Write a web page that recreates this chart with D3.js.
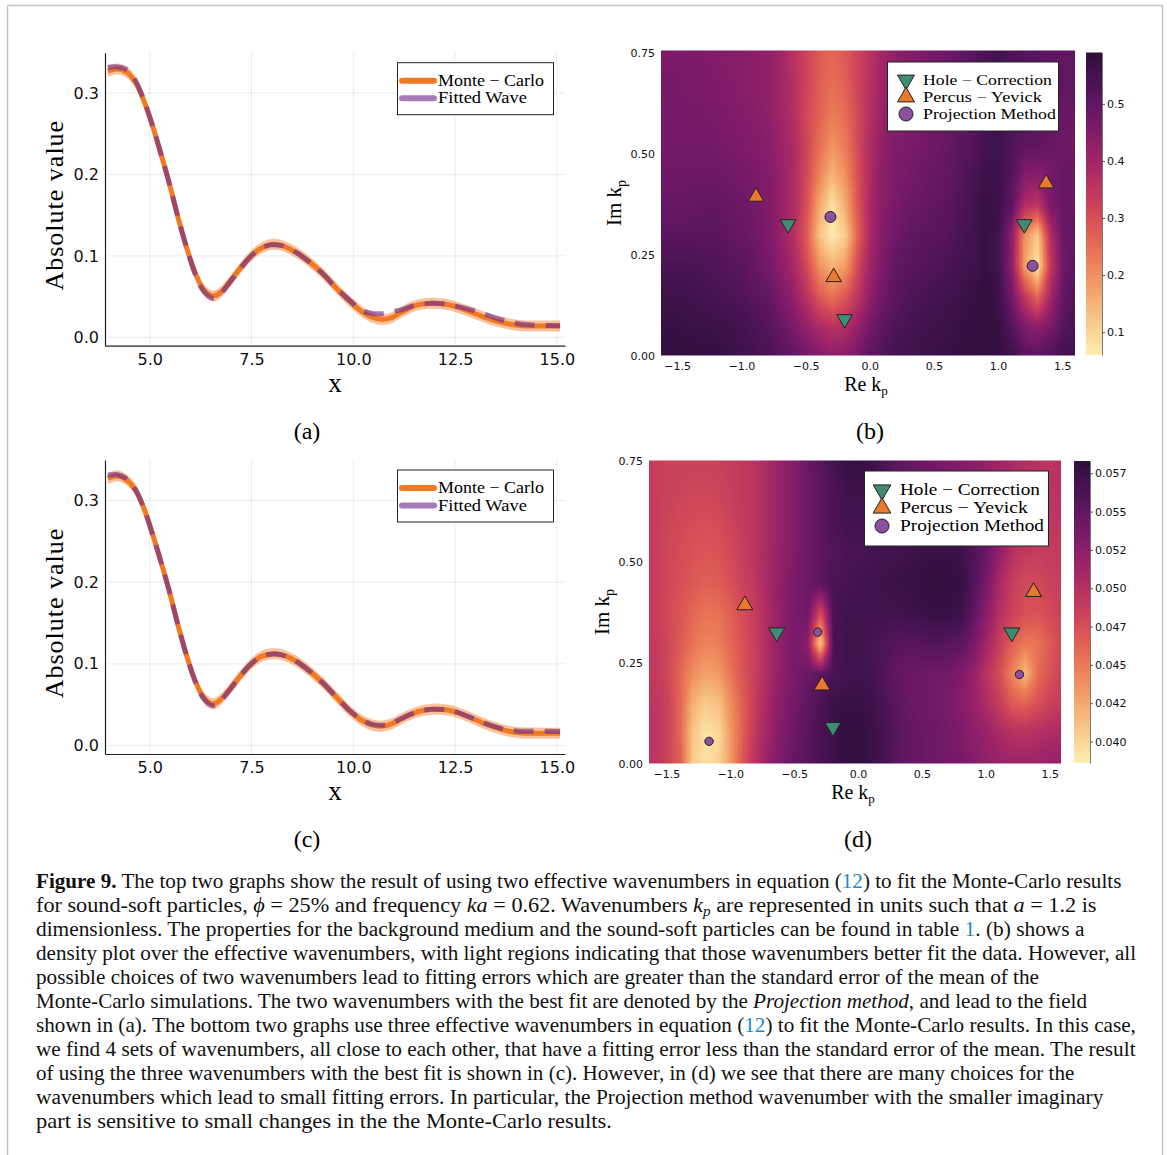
<!DOCTYPE html>
<html>
<head>
<meta charset="utf-8">
<script src="https://cdnjs.cloudflare.com/ajax/libs/d3/7.8.5/d3.min.js"></script>
<style>
  body { margin: 0; background: #fff; }
  svg text { font-family: "DejaVu Sans", sans-serif; }
  svg text.serif { font-family: "Liberation Serif", "DejaVu Serif", serif; }
</style>
</head>
<body>
<svg width="1167" height="1155"></svg>
<script>
// ---------- data: line panels (a) and (c) ----------
const xs = [3.97, 4.21, 4.42, 4.64, 4.85, 5.06, 5.27, 5.48, 5.69, 5.9, 6.12, 6.33, 6.54, 6.71, 6.96, 7.22, 7.47, 7.72, 7.98, 8.23,
            8.57, 8.91, 9.25, 9.59, 9.92, 10.18, 10.43, 10.69, 10.94, 11.19, 11.45, 11.7, 11.95, 12.21, 12.46, 12.8, 13.14, 13.48, 13.82, 14.15, 14.58, 15.08];
const monteCarloA = [0.327, 0.3295, 0.326, 0.314, 0.291, 0.261, 0.226, 0.189, 0.148, 0.111, 0.0786, 0.058, 0.0508, 0.054, 0.068, 0.0847, 0.099, 0.109, 0.114, 0.113,
                     0.105, 0.093, 0.078, 0.060, 0.0438, 0.0327, 0.0254, 0.0221, 0.0241, 0.031, 0.0377, 0.041, 0.0418, 0.041, 0.0385, 0.0327, 0.0262, 0.0205, 0.0164, 0.0143, 0.0139, 0.0139];
const fittedA = [0.3315, 0.332, 0.329, 0.316, 0.292, 0.261, 0.226, 0.189, 0.148, 0.111, 0.077, 0.056, 0.048, 0.052, 0.067, 0.084, 0.099, 0.109, 0.1135, 0.1125,
                 0.105, 0.093, 0.078, 0.060, 0.045, 0.034, 0.0295, 0.029, 0.0315, 0.034, 0.0385, 0.041, 0.0418, 0.0412, 0.039, 0.035, 0.030, 0.024, 0.0192, 0.016, 0.0147, 0.0143];
const monteCarloC = [0.327, 0.330, 0.3257, 0.3135, 0.291, 0.260, 0.2257, 0.189, 0.148, 0.111, 0.0788, 0.0584, 0.051, 0.055, 0.0686, 0.085, 0.099, 0.1086, 0.1122, 0.1114,
                     0.104, 0.0918, 0.0767, 0.059, 0.042, 0.0318, 0.0257, 0.0237, 0.0265, 0.033, 0.039, 0.0429, 0.0445, 0.0441, 0.042, 0.0359, 0.0286, 0.0224, 0.0176, 0.0155, 0.0151, 0.0151];
const fittedC = [0.331, 0.3315, 0.327, 0.314, 0.291, 0.260, 0.2257, 0.189, 0.148, 0.111, 0.078, 0.057, 0.049, 0.053, 0.068, 0.085, 0.099, 0.1086, 0.1118, 0.111,
                 0.104, 0.0918, 0.0767, 0.059, 0.0425, 0.0325, 0.0265, 0.0249, 0.0272, 0.0335, 0.0392, 0.043, 0.0445, 0.0441, 0.042, 0.036, 0.029, 0.0232, 0.0188, 0.0176, 0.0176, 0.0171];
const ribbonHalf = 0.0068;
const xTicks = [5, 7.5, 10, 12.5, 15];
const xTickLabels = ["5.0", "7.5", "10.0", "12.5", "15.0"];
const yTicks = [0, 0.1, 0.2, 0.3];
const yTickLabels = ["0.0", "0.1", "0.2", "0.3"];

// ---------- data: fitting-error maps (b) and (d) ----------
const reNodes = [-1.6, -1.5, -1.4, -1.3, -1.2, -1.1, -1.0, -0.9, -0.8, -0.7, -0.6, -0.5, -0.4, -0.3, -0.2, -0.1, 0.0,
                 0.1, 0.2, 0.3, 0.4, 0.5, 0.6, 0.7, 0.8, 0.9, 1.0, 1.1, 1.2, 1.3, 1.4, 1.5, 1.6];
const imNodes = [0, 0.075, 0.15, 0.225, 0.3, 0.375, 0.45, 0.525, 0.6, 0.675, 0.75];
// rows from Im = 0 upward
const errorB = [
  [.585,.585,.585,.582,.580,.570,.560,.550,.540,.520,.500,.470,.450,.430,.440,.470,.510,.530,.555,.560,.565,.570,.575,.580,.585,.585,.580,.560,.520,.510,.530,.555,.560],
  [.575,.575,.570,.568,.565,.560,.550,.535,.520,.490,.460,.420,.380,.360,.370,.420,.470,.510,.530,.545,.555,.560,.565,.575,.580,.585,.575,.520,.450,.430,.460,.520,.540],
  [.560,.560,.555,.550,.540,.535,.525,.510,.500,.460,.420,.360,.280,.240,.280,.350,.430,.480,.510,.530,.540,.550,.555,.565,.575,.585,.560,.470,.340,.250,.390,.500,.530],
  [.540,.540,.540,.535,.530,.520,.510,.490,.470,.430,.390,.310,.200,.150,.180,.310,.410,.460,.500,.510,.520,.530,.540,.550,.560,.580,.550,.430,.180,.070,.340,.480,.510],
  [.510,.510,.510,.510,.510,.500,.490,.480,.460,.420,.370,.280,.130,.065,.110,.270,.390,.450,.480,.500,.510,.515,.520,.540,.555,.580,.550,.430,.200,.120,.370,.490,.500],
  [.490,.490,.495,.500,.500,.490,.480,.470,.450,.420,.380,.300,.170,.080,.160,.290,.390,.440,.465,.480,.490,.500,.510,.530,.550,.575,.565,.500,.380,.350,.460,.490,.490],
  [.480,.480,.480,.480,.480,.475,.470,.460,.450,.420,.380,.310,.220,.150,.200,.300,.380,.440,.460,.470,.480,.490,.500,.520,.540,.565,.560,.520,.450,.440,.470,.490,.490],
  [.470,.470,.470,.470,.470,.460,.455,.450,.440,.410,.380,.320,.250,.200,.230,.310,.380,.430,.450,.460,.470,.480,.490,.510,.520,.555,.560,.530,.510,.500,.490,.480,.480],
  [.470,.470,.465,.465,.460,.455,.450,.440,.430,.400,.370,.310,.270,.230,.250,.310,.370,.420,.440,.455,.470,.480,.490,.500,.520,.550,.560,.530,.520,.510,.500,.490,.490],
  [.465,.465,.460,.460,.455,.450,.440,.435,.430,.400,.365,.320,.275,.250,.270,.320,.365,.410,.435,.450,.465,.470,.485,.500,.520,.545,.555,.535,.520,.510,.500,.500,.500],
  [.460,.460,.455,.455,.450,.445,.440,.435,.430,.400,.360,.320,.280,.260,.280,.320,.360,.400,.430,.445,.460,.470,.480,.500,.520,.540,.555,.530,.520,.510,.500,.500,.500]
];
// values in units of 1e-3
const errorD = [
  [49.4,48.5,46.5,40.6,39.4,40.2,43.5,47.5,50.0,52.2,53.6,54.8,55.7,56.7,57.5,58.1,58.1,57.5,56.7,55.3,54.6,54.4,54.2,54.0,53.6,52.8,52.2,51.8,51.6,51.6,51.6,51.8,52.0],
  [49.6,48.5,46.1,41.0,39.2,39.8,43.5,46.9,49.6,51.6,53.2,54.4,55.3,56.5,57.3,58.1,58.1,57.5,56.7,55.5,54.8,54.4,54.2,53.8,53.2,52.4,51.8,50.8,50.0,49.8,50.2,50.6,50.8],
  [49.4,48.5,46.1,42.1,40.6,41.2,44.1,46.9,49.2,51.2,52.8,54.0,55.1,56.3,57.5,57.7,57.7,57.3,56.3,55.1,54.4,54.2,54.0,53.4,52.8,52.0,50.4,48.8,46.9,46.5,47.5,48.5,49.0],
  [49.2,48.1,46.1,43.9,42.9,43.3,45.3,47.3,48.8,50.8,52.4,53.6,54.4,55.1,56.3,56.9,57.1,56.7,55.9,54.9,54.4,54.2,54.0,53.8,53.2,52.0,49.6,47.7,44.5,41.6,45.7,47.3,48.5],
  [49.2,48.1,46.9,45.3,44.5,44.7,46.1,47.5,48.8,50.8,52.4,53.6,52.4,40.2,56.3,57.3,57.1,56.7,56.1,55.7,55.5,55.7,55.9,55.7,55.1,53.6,51.2,48.8,46.5,45.1,45.3,46.9,48.1],
  [48.8,47.9,47.1,46.1,45.3,45.5,46.5,47.9,49.0,50.8,52.4,53.6,54.2,47.5,56.3,57.1,57.1,57.1,57.1,57.1,57.3,57.5,57.7,57.7,57.3,55.1,52.4,50.0,48.5,47.5,47.3,47.9,48.5],
  [48.8,48.1,47.5,46.9,46.5,46.7,47.5,48.5,49.6,51.0,52.4,53.4,54.4,55.3,56.3,56.7,56.9,57.1,57.3,57.5,57.7,57.9,58.1,58.1,57.7,55.9,53.6,50.8,48.8,47.9,47.9,48.5,48.8],
  [48.8,48.1,47.7,47.3,47.1,47.3,47.9,48.8,49.8,51.0,52.2,53.2,54.2,55.1,55.9,56.3,56.5,56.7,56.9,57.1,57.3,57.5,57.7,57.7,57.3,56.1,54.4,52.2,50.0,49.0,48.8,49.0,49.0],
  [48.8,48.3,47.9,47.7,47.5,47.7,48.3,49.0,49.8,50.8,52.0,53.2,54.2,55.3,56.3,56.9,56.9,56.7,56.3,55.9,55.7,55.5,55.5,55.5,55.3,54.8,53.6,52.0,50.6,49.8,49.4,49.4,49.4],
  [48.8,48.5,48.3,48.1,48.1,48.3,48.7,49.2,49.8,50.8,52.0,53.2,54.2,55.1,56.3,57.1,57.3,56.9,56.3,55.5,54.9,54.4,54.0,53.6,53.4,52.8,52.0,51.2,50.4,50.0,49.8,49.6,49.6],
  [48.8,48.5,48.5,48.5,48.5,48.5,48.8,49.2,49.8,50.8,52.0,53.2,54.4,55.5,56.9,57.7,57.9,57.3,56.3,55.3,54.8,54.2,53.8,53.4,53.0,52.6,52.0,51.4,50.8,50.2,49.8,49.6,49.6]
];
const holeCorrection = [[-0.64, 0.325], [-0.2, 0.09], [1.2, 0.325]];
const percusYevick = [[-0.89, 0.393], [-0.285, 0.194], [1.37, 0.426]];
const projectionB = [[-0.31, 0.343], [1.265, 0.222]];
const projectionD = [[-0.32, 0.326], [1.26, 0.221], [-1.17, 0.055]];
const reTicks = [-1.5, -1.0, -0.5, 0, 0.5, 1.0, 1.5];
const reTickLabels = ["\u22121.5", "\u22121.0", "\u22120.5", "0.0", "0.5", "1.0", "1.5"];
const imTicks = [0, 0.25, 0.5, 0.75];
const imTickLabels = ["0.00", "0.25", "0.50", "0.75"];
const cbarTicksB = [0.1, 0.2, 0.3, 0.4, 0.5];
const cbarLabelsB = ["0.1", "0.2", "0.3", "0.4", "0.5"];
const cbarTicksD = [40, 42.5, 45, 47.5, 50, 52.5, 55, 57.5];
const cbarLabelsD = ["0.040", "0.042", "0.045", "0.047", "0.050", "0.052", "0.055", "0.057"];
const legendNames = ["Hole \u2212 Correction", "Percus \u2212 Yevick", "Projection Method"];

const captionLines = [
  [["Figure 9.", "b"], [" The top two graphs show the result of using two effective wavenumbers in equation ("], ["12", "l"], [") to fit the Monte-Carlo results"]],
  [["for sound-soft particles, "], ["\u03d5", "i"], [" = 25% and frequency "], ["ka", "i"], [" = 0.62. Wavenumbers "], ["k", "i"], ["p", "sub"], [" are represented in units such that "], ["a", "i"], [" = 1.2 is"]],
  [["dimensionless. The properties for the background medium and the sound-soft particles can be found in table "], ["1", "l"], [". (b) shows a"]],
  [["density plot over the effective wavenumbers, with light regions indicating that those wavenumbers better fit the data. However, all"]],
  [["possible choices of two wavenumbers lead to fitting errors which are greater than the standard error of the mean of the"]],
  [["Monte-Carlo simulations. The two wavenumbers with the best fit are denoted by the "], ["Projection method", "i"], [", and lead to the field"]],
  [["shown in (a). The bottom two graphs use three effective wavenumbers in equation ("], ["12", "l"], [") to fit the Monte-Carlo results. In this case,"]],
  [["we find 4 sets of wavenumbers, all close to each other, that have a fitting error less than the standard error of the mean. The result"]],
  [["of using the three wavenumbers with the best fit is shown in (c). However, in (d) we see that there are many choices for the"]],
  [["wavenumbers which lead to small fitting errors. In particular, the Projection method wavenumber with the smaller imaginary"]],
  [["part is sensitive to small changes in the the Monte-Carlo results."]]
];
const captionEnds = [1122, 1097, 1085, 1137, 1040, 1088, 1137, 1136, 1075, 1104, 612];

// ---------- drawing ----------
const svg = d3.select("svg");
const orange = "#ef7a23", purpleLine = "#6e2a8e";
const teal = "#3f8c75", tri = "#e97a2c", purple = "#8d4f9f";
const matter = d3.interpolateRgbBasis(["#fdedb0", "#f9c98a", "#f3a068", "#eb7653", "#d94f55",
                                       "#bb3360", "#992169", "#72186a", "#4d1459", "#2f0f3d"]);

svg.append("path").attr("d", "M7.5,1155V5.5H1162.5V1155")
   .attr("fill", "none").attr("stroke", "#c4c4c4").attr("stroke-width", 1.5);

function fit(t, w) {
  const len = t.node().getComputedTextLength();
  const x = +t.attr("x"), y = +t.attr("y");
  t.attr("x", 0).attr("y", 0).attr("transform", `translate(${x},${y}) scale(${w / len},1)`);
}

function linePanel(mc, fitted, top, bottom, label) {
  const x = d3.scaleLinear().domain([3.9, 15.2]).range([105, 565]);
  const y = d3.scaleLinear().domain([-0.0103, 0.3495]).range([bottom, top]);
  const g = svg.append("g");

  g.selectAll(".vg").data(xTicks).join("line")
   .attr("x1", d => x(d)).attr("x2", d => x(d)).attr("y1", top).attr("y2", bottom)
   .attr("stroke", "#000").attr("stroke-opacity", 0.08);
  g.selectAll(".hg").data(yTicks).join("line")
   .attr("x1", 105).attr("x2", 565).attr("y1", d => y(d)).attr("y2", d => y(d))
   .attr("stroke", "#000").attr("stroke-opacity", 0.08);

  const pts = xs.map((d, i) => ({x: d, mc: mc[i], fit: fitted[i]}));
  g.append("path").datum(pts)
   .attr("d", d3.area().x(d => x(d.x)).y0(d => y(d.mc - ribbonHalf)).y1(d => y(d.mc + ribbonHalf)).curve(d3.curveCatmullRom))
   .attr("fill", orange).attr("fill-opacity", 0.45);
  g.append("path").datum(pts)
   .attr("d", d3.line().x(d => x(d.x)).y(d => y(d.mc)).curve(d3.curveCatmullRom))
   .attr("fill", "none").attr("stroke", orange).attr("stroke-width", 5);
  g.append("path").datum(pts)
   .attr("d", d3.line().x(d => x(d.x)).y(d => y(d.fit)).curve(d3.curveCatmullRom))
   .attr("fill", "none").attr("stroke", purpleLine).attr("stroke-opacity", 0.62)
   .attr("stroke-width", 5).attr("stroke-dasharray", "20,11");

  const xa = g.append("g").attr("transform", `translate(0,${bottom})`)
    .call(d3.axisBottom(x).tickValues(xTicks).tickFormat((d, i) => xTickLabels[i]).tickSize(0).tickPadding(8));
  const ya = g.append("g").attr("transform", "translate(105,0)")
    .call(d3.axisLeft(y).tickValues(yTicks).tickFormat((d, i) => yTickLabels[i]).tickSize(0).tickPadding(6));
  [xa, ya].forEach(a => {
    a.select(".domain").attr("stroke", "#222").attr("stroke-width", 1.2);
    a.selectAll("text").attr("font-size", 16).attr("fill", "#111").attr("font-family", "DejaVu Sans");
  });

  g.append("text").attr("class", "serif").attr("x", 335).attr("y", bottom + 46)
   .attr("text-anchor", "middle").attr("font-size", 27).text("x");
  g.append("text").attr("class", "serif")
   .attr("transform", `translate(63,${(top + bottom) / 2 + 6}) rotate(-90)`)
   .attr("text-anchor", "middle").attr("font-size", 26).attr("letter-spacing", 1).text("Absolute value");

  // legend
  const ly = top + 10;
  g.append("rect").attr("x", 397.5).attr("y", ly).attr("width", 156).attr("height", 52)
   .attr("fill", "#fff").attr("stroke", "#222").attr("stroke-width", 1);
  [[orange, 1, "Monte \u2212 Carlo", 106], [purpleLine, 0.62, "Fitted Wave", 89]].forEach(([c, op, name, w], i) => {
    const yy = ly + 18 + i * 17.5;
    g.append("line").attr("x1", 402).attr("x2", 434).attr("y1", yy).attr("y2", yy)
     .attr("stroke", c).attr("stroke-opacity", op).attr("stroke-width", 6).attr("stroke-linecap", "round");
    const t = g.append("text").attr("class", "serif").attr("x", 438).attr("y", yy + 5)
     .attr("font-size", 16).text(name);
    fit(t, w);
  });

  svg.append("text").attr("class", "serif").attr("x", 307).attr("y", bottom + 93)
   .attr("text-anchor", "middle").attr("font-size", 24).text(label);
}

function heatPanel(o) {
  const x = d3.scaleLinear().domain(o.reDomain).range([o.left, o.right]);
  const y = d3.scaleLinear().domain(o.imDomain).range([o.bottom, o.top]);
  const [c0, c1] = o.cDomain;
  const color = d3.scaleSequential(matter).domain(o.cDomain);
  const g = svg.append("g");

  // grid -> grey image -> smoothed upscale -> colour lookup
  const nx = reNodes.length, ny = imNodes.length;
  const small = document.createElement("canvas");
  small.width = nx; small.height = ny;
  const sctx = small.getContext("2d");
  const sd = sctx.createImageData(nx, ny);
  o.grid.forEach((row, j) => row.forEach((v, i) => {
    const k = ((ny - 1 - j) * nx + i) * 4;
    const gval = Math.max(0, Math.min(255, Math.round(255 * (v - c0) / (c1 - c0))));
    sd.data[k] = sd.data[k + 1] = sd.data[k + 2] = gval;
    sd.data[k + 3] = 255;
  }));
  sctx.putImageData(sd, 0, 0);
  const hx = (reNodes[1] - reNodes[0]) / 2, hy = (imNodes[1] - imNodes[0]) / 2;
  const ix0 = x(reNodes[0] - hx), ix1 = x(reNodes[nx - 1] + hx);
  const iy0 = y(imNodes[ny - 1] + hy), iy1 = y(imNodes[0] - hy);
  const W = Math.round(ix1 - ix0), H = Math.round(iy1 - iy0);
  const big = document.createElement("canvas");
  big.width = W; big.height = H;
  const bctx = big.getContext("2d");
  bctx.imageSmoothingEnabled = true;
  bctx.drawImage(small, 0, 0, nx, ny, 0, 0, W, H);
  const bd = bctx.getImageData(0, 0, W, H);
  const lut = d3.range(256).map(k => d3.rgb(color(c0 + (c1 - c0) * k / 255)));
  for (let p = 0; p < bd.data.length; p += 4) {
    const c = lut[bd.data[p]];
    bd.data[p] = c.r; bd.data[p + 1] = c.g; bd.data[p + 2] = c.b; bd.data[p + 3] = 255;
  }
  bctx.putImageData(bd, 0, 0);

  const clipId = "clip" + o.id;
  svg.append("clipPath").attr("id", clipId).append("rect")
     .attr("x", o.left).attr("y", o.top).attr("width", o.right - o.left).attr("height", o.bottom - o.top);
  g.append("image").attr("href", big.toDataURL())
   .attr("x", ix0).attr("y", iy0).attr("width", ix1 - ix0).attr("height", iy1 - iy0)
   .attr("preserveAspectRatio", "none").attr("clip-path", `url(#${clipId})`);

  // ticks
  g.selectAll(".xt").data(reTicks).join("text")
   .attr("x", d => x(d)).attr("y", o.bottom + 14).attr("text-anchor", "middle")
   .attr("font-size", 11).attr("fill", "#111").text((d, i) => reTickLabels[i]);
  g.selectAll(".yt").data(imTicks).join("text")
   .attr("x", o.left - 6).attr("y", d => y(d) + 4).attr("text-anchor", "end")
   .attr("font-size", 11).attr("fill", "#111").text((d, i) => imTickLabels[i]);

  // axis titles
  const re = g.append("text").attr("class", "serif").attr("x", (o.left + o.right) / 2 - 2).attr("y", o.bottom + 35)
   .attr("text-anchor", "middle").attr("font-size", 20);
  re.append("tspan").text("Re k");
  re.append("tspan").attr("font-size", 13).attr("dy", 4).text("p");
  const im = g.append("text").attr("class", "serif")
   .attr("transform", `translate(${o.left - 40},${(o.top + o.bottom) / 2}) rotate(-90)`)
   .attr("text-anchor", "middle").attr("font-size", 21);
  im.append("tspan").text("Im k");
  im.append("tspan").attr("font-size", 14).attr("dy", 5).text("p");

  // colorbar
  const cy = d3.scaleLinear().domain(o.cDomain).range([o.cbBottom, o.cbTop]);
  const gradId = "grad" + o.id;
  const grad = svg.append("defs").append("linearGradient").attr("id", gradId)
    .attr("x1", 0).attr("x2", 0).attr("y1", 1).attr("y2", 0);
  d3.range(0, 1.0001, 0.05).forEach(t => grad.append("stop").attr("offset", t).attr("stop-color", matter(t)));
  g.append("rect").attr("x", o.cbX).attr("y", o.cbTop).attr("width", 16).attr("height", o.cbBottom - o.cbTop)
   .attr("fill", `url(#${gradId})`);
  const ca = g.append("g").attr("transform", `translate(${o.cbX + 16},0)`)
    .call(d3.axisRight(cy).tickValues(o.cTicks).tickFormat((d, i) => o.cLabels[i]).tickSize(3).tickSizeOuter(0).tickPadding(2));
  ca.select(".domain").attr("stroke", "#777");
  ca.selectAll(".tick line").attr("stroke", "#555");
  ca.selectAll("text").attr("font-size", 11).attr("fill", "#111").attr("font-family", "DejaVu Sans");

  // markers
  const triSym = d3.symbol().type(d3.symbolTriangle);
  g.selectAll(".hc").data(holeCorrection).join("path")
   .attr("d", triSym.size(o.triSize)())
   .attr("transform", d => `translate(${x(d[0])},${y(d[1])}) rotate(180)`)
   .attr("fill", teal).attr("stroke", "#222").attr("stroke-width", 1);
  g.selectAll(".py").data(percusYevick).join("path")
   .attr("d", triSym.size(o.triSize)())
   .attr("transform", d => `translate(${x(d[0])},${y(d[1])})`)
   .attr("fill", tri).attr("stroke", "#222").attr("stroke-width", 1);
  g.selectAll(".pm").data(o.projection).join("circle")
   .attr("cx", d => x(d[0])).attr("cy", d => y(d[1])).attr("r", o.dotR)
   .attr("fill", purple).attr("stroke", "#222").attr("stroke-width", 1);

  // legend
  const L = o.legend;
  g.append("rect").attr("x", L.x).attr("y", L.y).attr("width", L.w).attr("height", L.h)
   .attr("fill", "#fff").attr("stroke", "#222").attr("stroke-width", 1);
  legendNames.forEach((name, i) => {
    const yy = L.y + L.first + i * L.step;
    if (i === 2) {
      g.append("circle").attr("cx", L.mx).attr("cy", yy).attr("r", L.r)
       .attr("fill", purple).attr("stroke", "#222").attr("stroke-width", 1);
    } else {
      g.append("path").attr("d", triSym.size(L.tri)())
       .attr("transform", `translate(${L.mx},${yy})` + (i === 0 ? " rotate(180)" : ""))
       .attr("fill", i === 0 ? teal : tri).attr("stroke", "#222").attr("stroke-width", 1);
    }
    const t = g.append("text").attr("class", "serif").attr("x", L.tx).attr("y", yy + 4.5)
     .attr("font-size", L.fs).text(name);
    fit(t, L.widths[i]);
  });

  svg.append("text").attr("class", "serif").attr("x", o.labelX).attr("y", o.bottom + 83)
   .attr("text-anchor", "middle").attr("font-size", 24).text(o.label);
}

linePanel(monteCarloA, fittedA, 52.7, 345.7, "(a)");
linePanel(monteCarloC, fittedC, 460, 754, "(c)");

heatPanel({
  id: "b", grid: errorB, projection: projectionB,
  left: 661, right: 1075, top: 50.5, bottom: 355.5,
  reDomain: [-1.63, 1.595], imDomain: [0, 0.755],
  cDomain: [0.06, 0.59], cTicks: cbarTicksB, cLabels: cbarLabelsB,
  cbX: 1086, cbTop: 52.5, cbBottom: 355,
  triSize: 105, dotR: 5.5,
  legend: {x: 887.5, y: 62, w: 171, h: 69, first: 18, step: 17, mx: 906, r: 7, tri: 125,
           tx: 923, fs: 15, widths: [129, 119, 133]},
  label: "(b)", labelX: 870
});
heatPanel({
  id: "d", grid: errorD, projection: projectionD,
  left: 649, right: 1061, top: 460.5, bottom: 763.5,
  reDomain: [-1.64, 1.585], imDomain: [0, 0.752],
  cDomain: [38.6, 58.3], cTicks: cbarTicksD, cLabels: cbarLabelsD,
  cbX: 1074, cbTop: 461, cbBottom: 763,
  triSize: 110, dotR: 4.2,
  legend: {x: 864.5, y: 471, w: 184, h: 75, first: 19, step: 18, mx: 882, r: 7, tri: 135,
           tx: 900, fs: 16, widths: [140, 128, 144]},
  label: "(d)", labelX: 858
});

// caption
captionLines.forEach((segs, i) => {
  const t = svg.append("text").attr("class", "serif").attr("x", 36).attr("y", 888 + i * 24)
    .attr("font-size", 20.5).attr("fill", "#111");
  let wasSub = false;
  segs.forEach(([s, st]) => {
    const sp = t.append("tspan").text(s);
    if (st === "b") sp.attr("font-weight", "bold");
    if (st === "i") sp.attr("font-style", "italic");
    if (st === "l") sp.attr("fill", "#1a8bc7");
    if (st === "sub") sp.attr("font-style", "italic").attr("font-size", 14).attr("dy", 4);
    else if (wasSub) sp.attr("dy", -4);
    wasSub = st === "sub";
  });
  fit(t, captionEnds[i] - 36);
});
</script>
</body>
</html>
